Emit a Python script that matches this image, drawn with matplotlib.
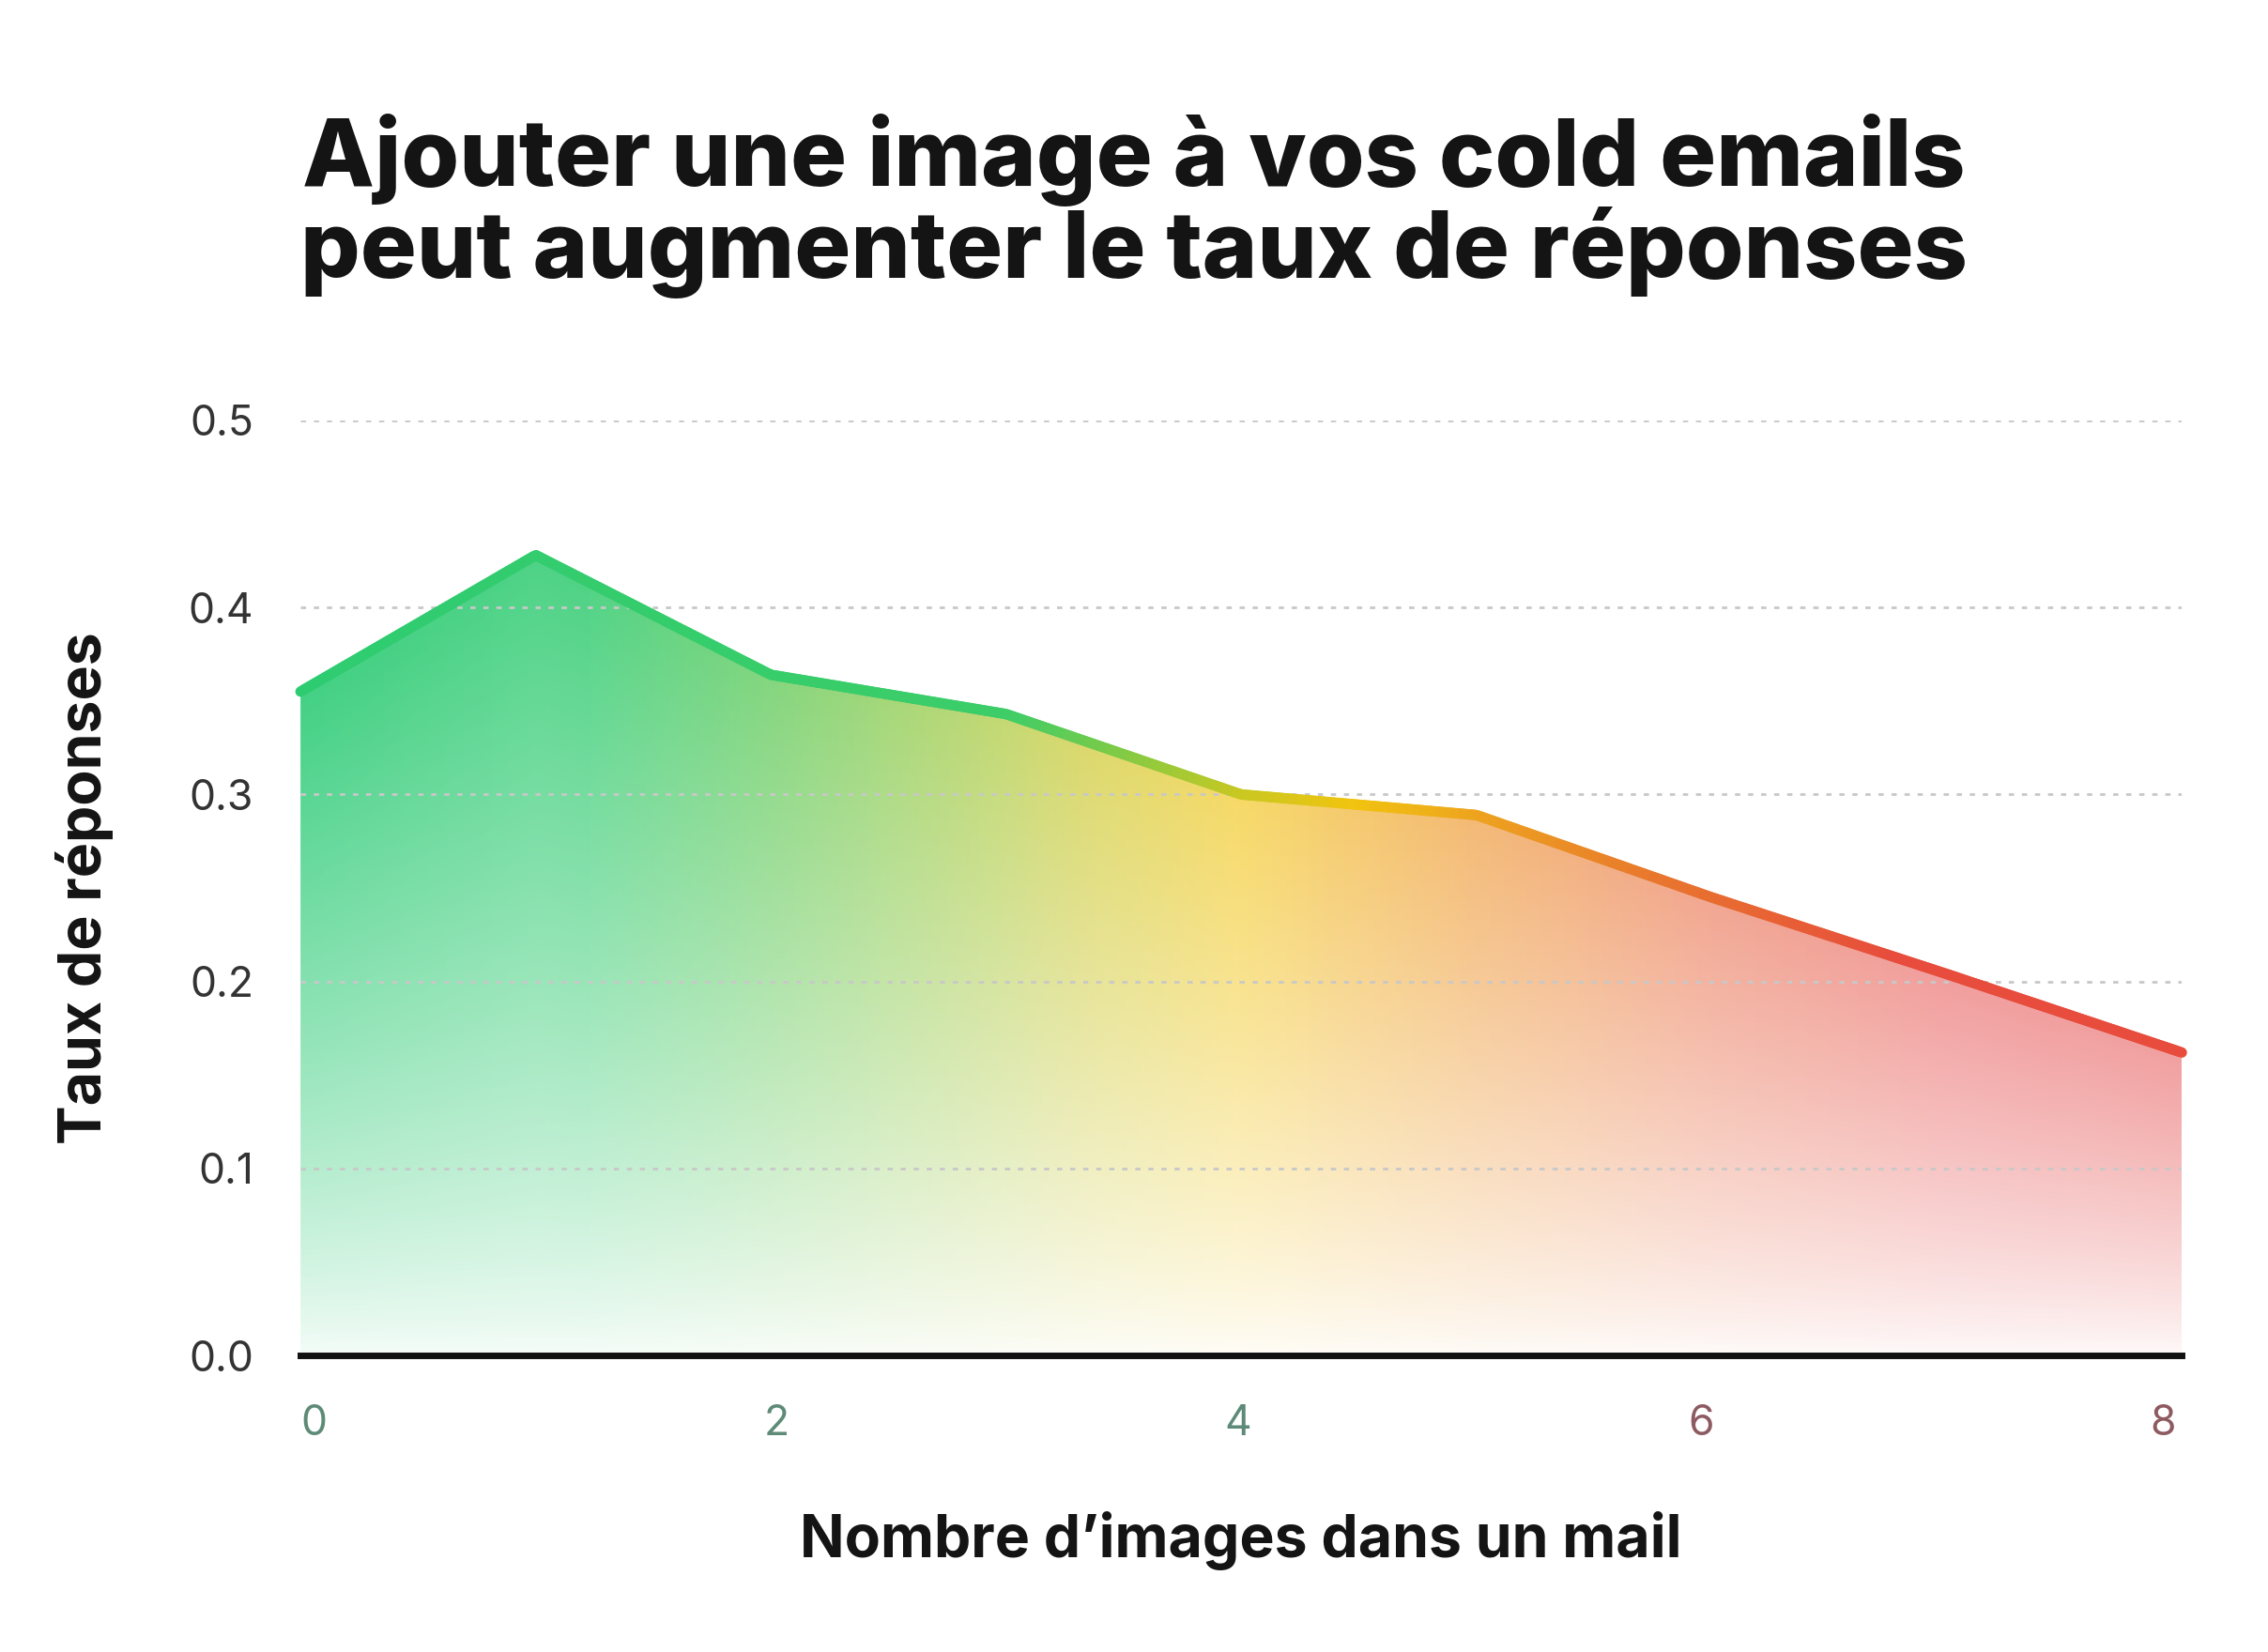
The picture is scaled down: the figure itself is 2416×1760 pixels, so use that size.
import numpy as np
import matplotlib
matplotlib.use("Agg")
import matplotlib.pyplot as plt
import matplotlib.transforms as mtransforms
from matplotlib.colors import LinearSegmentedColormap
from matplotlib.patches import Polygon

# data
nb_images = [0, 1, 2, 3, 4, 5, 6, 7, 8]
taux = [0.355, 0.428, 0.364, 0.343, 0.300, 0.289, 0.245, 0.204, 0.162]
x_ticks = [0, 2, 4, 6, 8]
x_tick_colors = ['#5e8a78', '#5e8a78', '#5e8a78', '#8e5a62', '#8e5a62']
y_ticks = [0.0, 0.1, 0.2, 0.3, 0.4, 0.5]

title = "Ajouter une image à vos cold emails\npeut augmenter le taux de réponses"
xlabel = "Nombre d’images dans un mail"
ylabel = "Taux de réponses"

plt.rcParams['font.family'] = ['Inter', 'DejaVu Sans']

fig = plt.figure(figsize=(24.16, 17.6), dpi=100)
ax = fig.add_axes([0.1325, 0.1795, 0.8295, 0.566])
ax.set_xlim(0, 8)
ax.set_ylim(0, 0.5)

# gradient colours along x
line_cmap = LinearSegmentedColormap.from_list(
    'gyr', [(0.0, '#2ecc71'), (0.375, '#3ccd68'), (0.5, '#c8c822'),
            (0.56, '#f1c40f'), (0.63, '#eda21f'), (0.72, '#e8782d'),
            (0.85, '#e74c3c'), (1.0, '#e74c3c')])
fill_cmap = LinearSegmentedColormap.from_list(
    'gyr_fill', [(0.0, '#3ccf80'), (0.15, '#4ad282'), (0.3, '#9cd676'),
                 (0.42, '#dcd868'), (0.5, '#f7d862'), (0.62, '#f4b870'),
                 (0.75, '#f2a48e'), (0.88, '#f19a9a'), (1.0, '#f19c9c')])

# fill: horizontal colour ramp, fades to white towards the baseline
nx, ny = 500, 400
gx = np.linspace(0, 8, nx)
gy = np.linspace(0, max(taux), ny)
top = np.interp(gx, nb_images, taux)
rel = np.clip(gy[:, None] / top[None, :], 0, 1)
rgba = fill_cmap(gx / 8)[None, :, :].repeat(ny, axis=0)
rgba[:, :, 3] = 0.05 + 0.92 * rel ** 0.8
img = ax.imshow(rgba, extent=[0, 8, 0, max(taux)], origin='lower',
                aspect='auto', interpolation='bilinear', zorder=1)
poly = Polygon(list(zip(nb_images, taux)) + [(8, 0), (0, 0)], closed=True,
               facecolor='none', edgecolor='none', transform=ax.transData)
ax.add_patch(poly)
img.set_clip_path(poly)

# gradient line made of short segments
xs = np.linspace(0, 8, 600)
ys = np.interp(xs, nb_images, taux)
for i in range(len(xs) - 1):
    ax.plot(xs[i:i + 2], ys[i:i + 2], color=line_cmap(xs[i] / 8), lw=8,
            solid_capstyle='round', zorder=3, clip_on=False)

# grid and baseline
for yv in y_ticks[1:]:
    ax.axhline(yv, color='#c8c8c8', lw=2, ls=(0, (2, 3)), zorder=2)
ax.axhline(0, color='#111111', lw=5, zorder=4, clip_on=False)

for s in ax.spines.values():
    s.set_visible(False)
ax.tick_params(length=0)
ax.set_yticks(y_ticks)
ax.set_yticklabels([f"{v:.1f}" for v in y_ticks], fontsize=32, color='#333333')
ax.tick_params(axis='y', pad=36)
ax.set_xticks(x_ticks)
ax.set_xticklabels([])

# x tick labels drawn by hand, slightly pulled inwards like the original
x_shift = [14, 6, -3, -11, -20]
xtrans = mtransforms.blended_transform_factory(ax.transData, ax.transAxes)
for v, c, dx in zip(x_ticks, x_tick_colors, x_shift):
    tr = xtrans + mtransforms.ScaledTranslation(dx / 100, -0.52, fig.dpi_scale_trans)
    ax.text(v, 0, str(v), transform=tr, ha='center', va='top',
            fontsize=32, color=c)

ax.set_xlabel(xlabel, fontsize=45, fontweight='bold', color='#141414', labelpad=116)
ax.set_ylabel(ylabel, fontsize=45, fontweight='bold', color='#141414', labelpad=57)

fig.text(0.50, 0.875, title, ha='center', va='center', fontsize=72,
         fontweight='heavy', color='#141414', linespacing=1.0)

fig.savefig('out.png', dpi=100, facecolor='white')
